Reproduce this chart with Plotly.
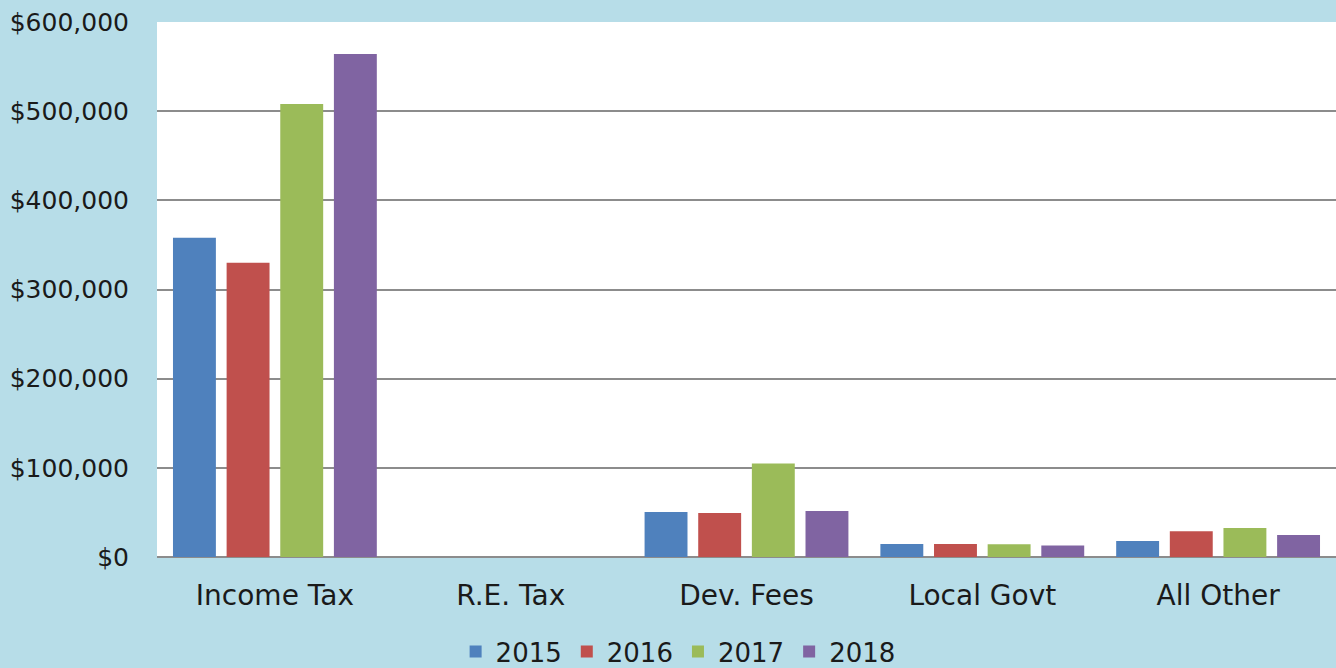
import plotly.graph_objects as go

categories = ["Income Tax", "R.E. Tax", "Dev. Fees", "Local Govt", "All Other"]
years = ["2015", "2016", "2017", "2018"]
v2015 = [358000, 0, 50500, 14600, 17900]
v2016 = [330000, 0, 49300, 14600, 29000]
v2017 = [508000, 0, 105000, 14200, 32500]
v2018 = [564000, 0, 51600, 12900, 24700]
y_ticks = [0, 100000, 200000, 300000, 400000, 500000, 600000]
y_labels = ["$0", "$100,000", "$200,000", "$300,000", "$400,000", "$500,000", "$600,000"]

colors = ["#4F81BD", "#C0504D", "#9BBB59", "#8064A2"]
series = [v2015, v2016, v2017, v2018]

fig = go.Figure()
for name, vals, c in zip(years, series, colors):
    fig.add_trace(go.Bar(name=name, x=categories, y=vals, marker_color=c,
                         marker_line=dict(width=0)))

font_family = "'DejaVu Sans', sans-serif"
fig.update_layout(
    width=1336, height=668,
    paper_bgcolor="#B7DDE8", plot_bgcolor="#FFFFFF",
    margin=dict(l=157, r=0, t=22, b=111, autoexpand=False),
    barmode="group", bargap=0.09, bargroupgap=0.2,
    font=dict(family=font_family, size=25, color="#1a1a1a"),
    showlegend=True,
    legend=dict(orientation="h", x=0.442, xanchor="center", y=-0.133, yanchor="top",
                font=dict(size=26), bgcolor="rgba(0,0,0,0)", itemwidth=30,
                traceorder="normal"),
)
fig.update_yaxes(range=[0, 600000], tickvals=y_ticks, ticktext=y_labels,
                 showgrid=True, gridcolor="#8C8C8C", gridwidth=1.5,
                 zeroline=True, zerolinecolor="#8C8C8C", zerolinewidth=1.5,
                 ticks="outside", ticklen=22, tickcolor="rgba(0,0,0,0)",
                 tickfont=dict(size=25))
fig.update_xaxes(showline=False, ticks="outside", ticklen=13, tickcolor="rgba(0,0,0,0)",
                 tickfont=dict(size=28))

fig.write_html("out.html", config={"displayModeBar": False},
               post_script="document.body.style.margin='0';")
